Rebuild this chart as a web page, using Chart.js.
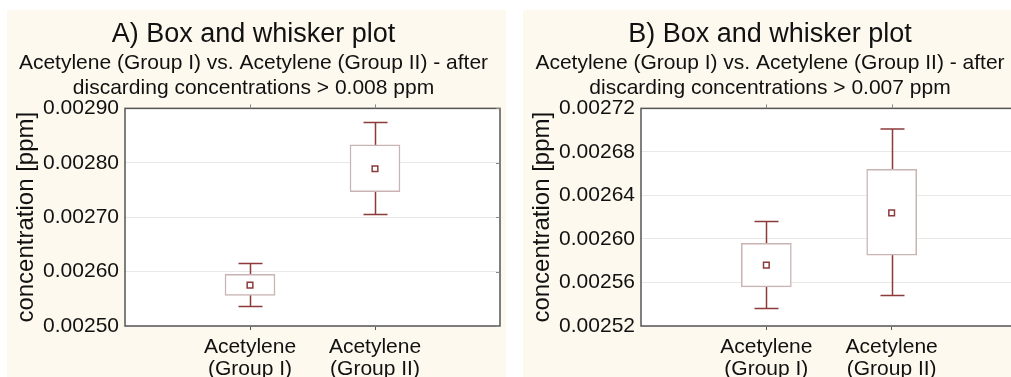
<!DOCTYPE html>
<html>
<head>
<meta charset="utf-8">
<script src="https://cdn.jsdelivr.net/npm/chart.js@4/dist/chart.umd.min.js"></script>
<style>
  html, body { margin: 0; padding: 0; background: #ffffff; overflow: hidden; width: 1011px; height: 377px; }
  .panel { position: absolute; top: 10px; height: 367px; }
  #panelA { left: 7px; width: 499px; }
  #panelB { left: 523px; width: 500px; }
</style>
</head>
<body>
<div class="panel" id="panelA"><canvas id="chartA"></canvas></div>
<div class="panel" id="panelB"><canvas id="chartB"></canvas></div>
<script>
// categorías y valores
const categories = [['Acetylene', '(Group I)'], ['Acetylene', '(Group II)']];

// Panel A (> 0.008 ppm descartado)
const meanA = [0.002575, 0.002789];
const boxLowA = [0.002556, 0.002747];
const boxHighA = [0.002595, 0.002833];
const whiskerLowA = [0.002536, 0.002705];
const whiskerHighA = [0.002615, 0.002874];
const yTicksA = ['0.00250', '0.00260', '0.00270', '0.00280', '0.00290'];

// Panel B (> 0.007 ppm descartado)
const meanB = [0.002576, 0.002624];
const boxLowB = [0.002556, 0.002585];
const boxHighB = [0.002596, 0.002664];
const whiskerLowB = [0.002536, 0.002548];
const whiskerHighB = [0.002616, 0.002701];
const yTicksB = ['0.00252', '0.00256', '0.00260', '0.00264', '0.00268', '0.00272'];

const colors = {
    panel: '#fdf9ee',
    plot: '#ffffff',
    whisker: '#8c3a3a',
    box: '#c9b3b3',
    grid: '#e8e8e8',
    frame: '#555555',
    text: '#111111'
};
const fontFamily = '"Liberation Sans", Arial, sans-serif';

// fondo crema del panel y área blanca del gráfico
const backgroundPlugin = {
    id: 'background',
    beforeDraw(chart) {
        const { ctx, chartArea: a } = chart;
        ctx.save();
        ctx.fillStyle = colors.panel;
        ctx.fillRect(0, 0, chart.width, chart.height);
        ctx.fillStyle = colors.plot;
        ctx.fillRect(a.left, a.top, a.right - a.left, a.bottom - a.top);
        ctx.restore();
    }
};

// bigotes: línea vertical + topes, desde las escalas
const whiskerPlugin = {
    id: 'whiskers',
    beforeDatasetsDraw(chart, args, opts) {
        const { ctx, scales: { x, y } } = chart;
        ctx.save();
        ctx.strokeStyle = colors.whisker;
        ctx.lineWidth = 1.5;
        opts.low.forEach((lo, i) => {
            const px = Math.round(x.getPixelForValue(i)) + 0.5;
            const yLo = y.getPixelForValue(lo);
            const yHi = y.getPixelForValue(opts.high[i]);
            ctx.beginPath();
            ctx.moveTo(px, yLo);
            ctx.lineTo(px, yHi);
            ctx.moveTo(px - 12, yLo);
            ctx.lineTo(px + 12, yLo);
            ctx.moveTo(px - 12, yHi);
            ctx.lineTo(px + 12, yHi);
            ctx.stroke();
        });
        ctx.restore();
    }
};

// marco completo con marcas pequeñas arriba y a la derecha
const framePlugin = {
    id: 'frame',
    afterDatasetsDraw(chart) {
        const { ctx, chartArea: a, scales: { x, y } } = chart;
        ctx.save();
        ctx.strokeStyle = colors.frame;
        ctx.lineWidth = 1.5;
        ctx.strokeRect(a.left, a.top, a.right - a.left, a.bottom - a.top);
        ctx.lineWidth = 1;
        ctx.beginPath();
        x.ticks.forEach(t => {
            const px = Math.round(x.getPixelForValue(t.value)) + 0.5;
            ctx.moveTo(px, a.top);
            ctx.lineTo(px, a.top - 4);
        });
        y.ticks.forEach(t => {
            const py = Math.round(y.getPixelForValue(t.value)) + 0.5;
            ctx.moveTo(a.right, py);
            ctx.lineTo(a.right - 4, py);
        });
        ctx.strokeStyle = '#888888';
        ctx.stroke();
        ctx.restore();
    }
};

function createBoxChart(id, cfg) {
    const ctx = document.getElementById(id)?.getContext('2d');
    if (!ctx) return;

    new Chart(ctx, {
        type: 'bar',
        data: {
            datasets: [{
                label: 'box',
                data: cfg.boxLow.map((lo, i) => ({ x: i, y: [lo, cfg.boxHigh[i]] })),
                backgroundColor: colors.plot,
                borderColor: colors.box,
                borderWidth: 1.5,
                borderSkipped: false,
                barThickness: 50,
                order: 2
            }, {
                type: 'scatter',
                label: 'mean',
                data: cfg.mean.map((m, i) => ({ x: i, y: m })),
                pointStyle: 'rect',
                pointRadius: 4,
                pointBackgroundColor: colors.plot,
                pointBorderColor: colors.whisker,
                pointBorderWidth: 1.5,
                order: 1
            }]
        },
        options: {
            responsive: true,
            maintainAspectRatio: false,
            animation: false,
            layout: { padding: { left: 0, right: 6, top: 0, bottom: 0 } },
            plugins: {
                legend: { display: false },
                tooltip: { enabled: false },
                title: {
                    display: true,
                    text: cfg.title,
                    color: colors.text,
                    font: { family: fontFamily, size: 27, weight: 'normal', lineHeight: 1.2 },
                    padding: { top: 8, bottom: 0 }
                },
                subtitle: {
                    display: true,
                    text: cfg.subtitle,
                    color: colors.text,
                    font: { family: fontFamily, size: 21, weight: 'normal', lineHeight: 1.19 },
                    padding: { top: 0, bottom: 8 }
                },
                whiskers: { low: cfg.whiskerLow, high: cfg.whiskerHigh }
            },
            scales: {
                x: {
                    type: 'linear',
                    min: -1,
                    max: 2,
                    offset: false,
                    afterBuildTicks: s => { s.ticks = categories.map((c, i) => ({ value: i })); },
                    afterFit: s => { s.height = 51; },
                    ticks: {
                        color: colors.text,
                        font: { family: fontFamily, size: 21, lineHeight: 1.05 },
                        padding: 6,
                        maxRotation: 0,
                        autoSkip: false,
                        callback: v => categories[v]
                    },
                    grid: { offset: false, drawOnChartArea: false, drawTicks: true, tickLength: 4, color: colors.frame },
                    border: { display: false }
                },
                y: {
                    min: cfg.yMin,
                    max: cfg.yMax,
                    afterFit: s => { s.width = 118; },
                    ticks: {
                        stepSize: cfg.yStep / 2,
                        color: colors.text,
                        font: { family: fontFamily, size: 21 },
                        padding: 6,
                        callback: (v, i) => (i % 2 === 0 ? cfg.yTicks[i / 2] : '')
                    },
                    grid: { color: colors.grid, drawTicks: false },
                    border: { display: false },
                    title: {
                        display: true,
                        text: 'concentration [ppm]',
                        color: colors.text,
                        font: { family: fontFamily, size: 24 },
                        padding: { top: 5, bottom: 0 }
                    }
                }
            }
        },
        plugins: [backgroundPlugin, whiskerPlugin, framePlugin]
    });
}

createBoxChart('chartA', {
    title: 'A) Box and whisker plot',
    subtitle: ['Acetylene (Group I) vs. Acetylene (Group II) - after', 'discarding concentrations > 0.008 ppm'],
    mean: meanA, boxLow: boxLowA, boxHigh: boxHighA,
    whiskerLow: whiskerLowA, whiskerHigh: whiskerHighA,
    yMin: 0.00250, yMax: 0.00290, yStep: 0.0001, yTicks: yTicksA
});

createBoxChart('chartB', {
    title: 'B) Box and whisker plot',
    subtitle: ['Acetylene (Group I) vs. Acetylene (Group II) - after', 'discarding concentrations > 0.007 ppm'],
    mean: meanB, boxLow: boxLowB, boxHigh: boxHighB,
    whiskerLow: whiskerLowB, whiskerHigh: whiskerHighB,
    yMin: 0.00252, yMax: 0.00272, yStep: 0.00004, yTicks: yTicksB
});
</script>
</body>
</html>
